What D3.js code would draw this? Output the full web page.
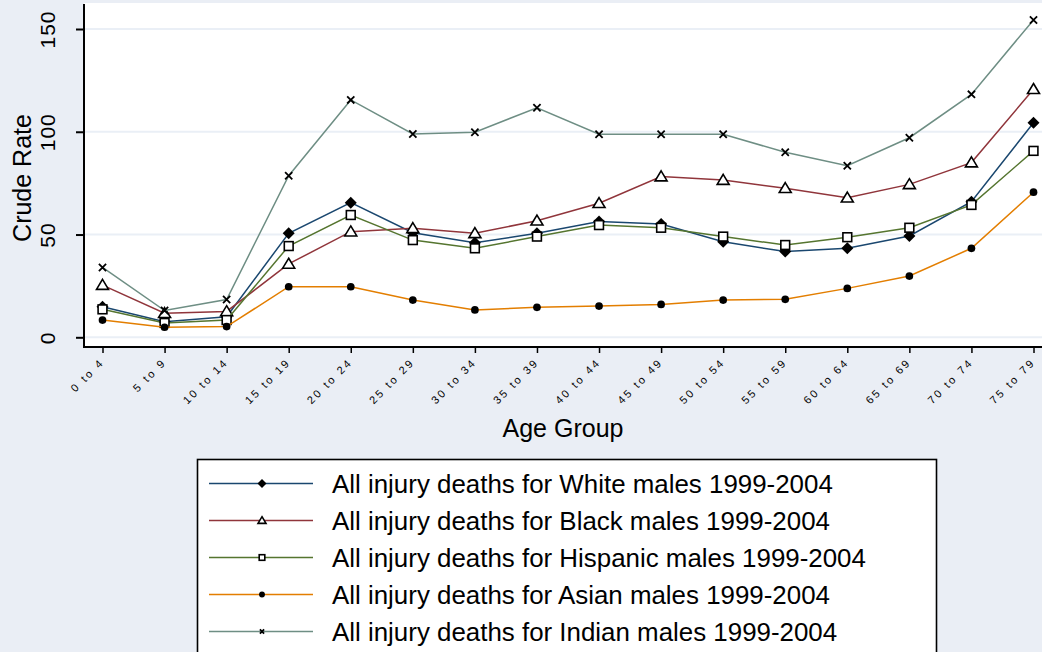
<!DOCTYPE html>
<html>
<head>
<meta charset="utf-8">
<script src="https://cdn.jsdelivr.net/npm/d3@7"></script>
<style>
  html, body { margin: 0; padding: 0; background: #eaeef5; }
  svg { display: block; }
  text { font-family: "Liberation Sans", Arial, sans-serif; fill: #000; }
</style>
</head>
<body>
<svg id="chart" width="1042" height="652"></svg>
<script>
const ageGroups = ["0 to 4","5 to 9","10 to 14","15 to 19","20 to 24","25 to 29","30 to 34","35 to 39","40 to 44","45 to 49","50 to 54","55 to 59","60 to 64","65 to 69","70 to 74","75 to 79"];
const whiteMales    = [14.9, 7.6, 10.0, 50.6, 65.5, 50.9, 46.0, 50.6, 56.3, 55.1, 46.5, 41.7, 43.3, 49.3, 66.0, 104.4];
const blackMales    = [25.4, 11.7, 12.6, 35.7, 51.4, 53.0, 50.6, 56.7, 65.2, 78.2, 76.5, 72.5, 67.9, 74.4, 85.0, 120.7];
const hispanicMales = [13.6, 7.0, 8.4, 44.4, 59.5, 47.3, 43.3, 49.0, 54.6, 53.3, 49.0, 44.9, 48.7, 53.3, 64.4, 90.7];
const asianMales    = [8.4, 4.9, 5.2, 24.6, 24.6, 18.1, 13.3, 14.6, 15.2, 16.0, 18.1, 18.5, 23.8, 29.8, 43.3, 70.6];
const indianMales   = [34.0, 13.0, 18.4, 78.6, 115.5, 98.9, 99.8, 111.7, 98.8, 98.8, 98.8, 90.0, 83.5, 97.1, 118.2, 154.4];
const seriesNames = [
  "All injury deaths for White males 1999-2004",
  "All injury deaths for Black males 1999-2004",
  "All injury deaths for Hispanic males 1999-2004",
  "All injury deaths for Asian males 1999-2004",
  "All injury deaths for Indian males 1999-2004"
];
const yTicks = [0, 50, 100, 150];
const xTitle = "Age Group";
const yTitle = "Crude Rate";

const seriesValues = [whiteMales, blackMales, hispanicMales, asianMales, indianMales];
const colors = ["#1a476f", "#90353b", "#55752f", "#e37e00", "#6e8e84"];
const markers = ["diamond", "triangle", "square", "circle", "cross"];

const svg = d3.select("#chart");
const plot = { left: 84, right: 1042, top: 3, bottom: 347 };

const x = d3.scalePoint().domain(ageGroups).range([102.5, 1033.5]);
const y = d3.scaleLinear().domain([0, 150]).range([337.3, 29]);

// background
svg.append("rect").attr("width", 1042).attr("height", 652).attr("fill", "#eaeef5");
svg.append("rect")
  .attr("x", plot.left).attr("y", plot.top)
  .attr("width", plot.right - plot.left + 2).attr("height", plot.bottom - plot.top)
  .attr("fill", "#ffffff");

// gridlines
svg.append("g").selectAll("line").data(yTicks).join("line")
  .attr("x1", plot.left).attr("x2", plot.right)
  .attr("y1", d => y(d)).attr("y2", d => y(d))
  .attr("stroke", "#eaeff6").attr("stroke-width", 2);

// axes
const yAxis = d3.axisLeft(y).tickValues(yTicks).tickSize(8).tickFormat(d3.format("d"));
const gy = svg.append("g").attr("transform", `translate(${plot.left},0)`).call(yAxis);
gy.select(".domain").attr("d", `M0,${plot.top + 1}V${plot.bottom + 1}`).attr("stroke", "#000").attr("stroke-width", 2);
gy.selectAll(".tick line").attr("stroke", "#000").attr("stroke-width", 2);
gy.selectAll(".tick text")
  .attr("x", 0).attr("y", 0).attr("dy", 0)
  .attr("text-anchor", "middle")
  .attr("transform", "translate(-29,0) rotate(-90)")
  .style("font-size", "21px").style("letter-spacing", "1px")
  .style("font-family", "'Liberation Sans', Arial, sans-serif");

const xAxis = d3.axisBottom(x).tickSize(6);
const gx = svg.append("g").attr("transform", `translate(0,${plot.bottom})`).call(xAxis);
gx.select(".domain").attr("d", `M${plot.left},0H${plot.right}`).attr("stroke", "#000").attr("stroke-width", 2);
gx.selectAll(".tick line").attr("stroke", "#000").attr("stroke-width", 1.5);
gx.selectAll(".tick text")
  .attr("x", 0).attr("y", 0).attr("dy", 0)
  .attr("text-anchor", "end")
  .attr("transform", "translate(2,16) rotate(-45)")
  .style("font-size", "11px").style("letter-spacing", "2.4px")
  .style("font-family", "'Liberation Sans', Arial, sans-serif");

// axis titles
svg.append("text").attr("x", (plot.left + plot.right) / 2).attr("y", 437)
  .attr("text-anchor", "middle").style("font-size", "25px").text(xTitle);
svg.append("text").attr("transform", "translate(31,178) rotate(-90)")
  .attr("text-anchor", "middle").style("font-size", "25px").text(yTitle);

// marker drawing
function drawMarker(g, type, cx, cy, s) {
  if (type === "diamond") {
    g.append("path").attr("d", `M${cx},${cy - s}L${cx + s},${cy}L${cx},${cy + s}L${cx - s},${cy}Z`).attr("fill", "#000");
  } else if (type === "triangle") {
    const h = s * 0.95;
    g.append("path").attr("d", `M${cx},${cy - h}L${cx + s},${cy + h * 0.75}L${cx - s},${cy + h * 0.75}Z`)
      .attr("fill", "#fff").attr("stroke", "#000").attr("stroke-width", 1.6);
  } else if (type === "square") {
    g.append("rect").attr("x", cx - s * 0.8).attr("y", cy - s * 0.8).attr("width", s * 1.6).attr("height", s * 1.6)
      .attr("fill", "#fff").attr("stroke", "#000").attr("stroke-width", 1.6);
  } else if (type === "circle") {
    g.append("circle").attr("cx", cx).attr("cy", cy).attr("r", s * 0.7).attr("fill", "#000");
  } else if (type === "cross") {
    const c = s * 0.6;
    g.append("path").attr("d", `M${cx - c},${cy - c}L${cx + c},${cy + c}M${cx - c},${cy + c}L${cx + c},${cy - c}`)
      .attr("stroke", "#000").attr("stroke-width", 1.8);
  }
}

const line = d3.line().x((d, i) => x(ageGroups[i])).y(d => y(d));
const markerSize = [6, 6, 5.5, 5.5, 6];

seriesValues.forEach((vals, si) => {
  const g = svg.append("g");
  g.append("path").attr("d", line(vals)).attr("fill", "none")
    .attr("stroke", colors[si]).attr("stroke-width", 1.5);
  vals.forEach((v, i) => drawMarker(g, markers[si], x(ageGroups[i]), y(v), markerSize[si]));
});

// legend
const legend = svg.append("g");
legend.append("rect").attr("x", 197.5).attr("y", 459.5).attr("width", 739).attr("height", 200)
  .attr("fill", "#fff").attr("stroke", "#000").attr("stroke-width", 1.6);
const legendMarkerSize = [4.5, 4, 3.5, 4.2, 3.5];
seriesNames.forEach((name, i) => {
  const cy = 483.5 + i * 37;
  const lg = legend.append("g");
  lg.append("line").attr("x1", 209).attr("x2", 313).attr("y1", cy).attr("y2", cy)
    .attr("stroke", colors[i]).attr("stroke-width", 1.6);
  drawMarker(lg, markers[i], 262, cy, legendMarkerSize[i]);
  lg.append("text").attr("x", 332).attr("y", cy + 9).style("font-size", "25.9px").text(name);
});
</script>
</body>
</html>
